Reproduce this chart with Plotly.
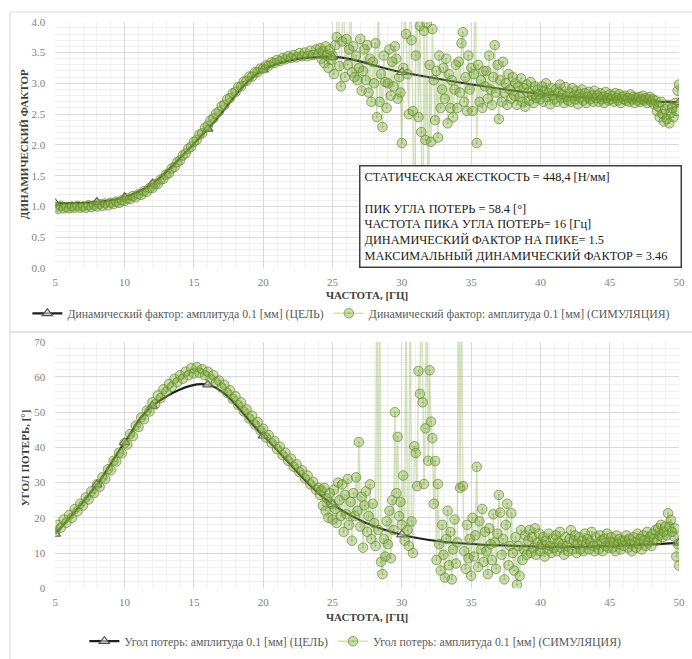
import numpy as np
import plotly.graph_objects as go

# ---------------- data ----------------
# simulation sampled every 0.2 Hz up to 24 Hz, then every 0.1 Hz
freq_sim = np.round(np.concatenate([np.arange(5.0, 24.0001, 0.2),
                                    np.arange(24.1, 50.0001, 0.1)]), 1)

target_freq = [5, 8, 10, 12, 16, 20, 25, 30, 40, 50]
df_target = [1.05, 1.07, 1.15, 1.37, 2.26, 3.22, 3.43, 3.18, 2.83, 2.69]
la_target = [15.4, 29.4, 41.4, 51.8, 57.8, 43.3, 23.8, 15.2, 11.8, 12.9]

df_sim = [
    # 5.0 - 24.0 (0.2 Hz)
    0.99, 0.96, 1.01, 0.97, 0.99,
    0.97, 1.00, 0.98, 1.01, 0.98,
    1.00, 0.98, 1.02, 0.99, 1.02,
    1.00, 1.04, 1.01, 1.05, 1.02,
    1.06, 1.04, 1.08, 1.06, 1.10,
    1.09, 1.13, 1.12, 1.17, 1.15,
    1.20, 1.19, 1.25, 1.24, 1.30,
    1.30, 1.36, 1.37, 1.44, 1.45,
    1.52, 1.54, 1.62, 1.64, 1.72,
    1.75, 1.83, 1.86, 1.94, 1.97,
    2.05, 2.08, 2.17, 2.19, 2.28,
    2.31, 2.40, 2.43, 2.51, 2.54,
    2.63, 2.65, 2.74, 2.76, 2.84,
    2.86, 2.94, 2.95, 3.03, 3.04,
    3.11, 3.11, 3.18, 3.18, 3.24,
    3.24, 3.29, 3.29, 3.34, 3.33,
    3.38, 3.36, 3.41, 3.39, 3.44,
    3.41, 3.46, 3.42, 3.49, 3.44,
    3.50, 3.44, 3.53, 3.46, 3.55,
    3.48,
    # 24.1 - 50.0 (0.1 Hz)
    3.57, 3.40, 3.52, 3.33, 3.60, 3.45, 3.25, 3.55, 3.38, 3.45,
    3.15, 3.62, 3.75, 5.20, 3.28, 2.95, 3.68, 4.80, 3.10, 3.72,
    3.30, 3.55, 5.00, 3.18, 3.60, 3.10, 3.45, 3.05, 3.25, 3.72,
    2.88, 3.20, 3.55, 3.05, 3.62, 2.85, 3.40, 2.70, 3.35, 3.00,
    3.65, 2.45, 4.60, 2.70, 3.15, 2.29, 3.45, 3.02, 2.60, 3.00,
    3.55, 2.80, 3.35, 2.95, 3.60, 3.40, 2.75, 3.10, 2.85, 2.03,
    3.25, 4.50, 3.80, 3.15, 2.50, 5.00, 3.70, 2.55, -1.00, 3.45,
    4.60, 2.45, 3.93, 2.21, -1.00, 3.85, 2.08, 3.97, 0.50, 3.30,
    2.05, 3.88, 3.05, 2.40, 3.20, 2.12, 3.45, 2.60, 2.90, 3.25,
    2.75, 3.40, 2.35, 3.15, 2.60, 3.05, 2.45, 2.90, 3.30, 2.60,
    3.35, 2.85, 3.65, 3.83, 2.70, 3.10, 2.55, 3.45, 2.90, 3.25,
    2.55, 3.15, 5.00, 2.03, 3.30, 2.70, 3.05, 2.60, 3.20, 2.95,
    3.20, 2.75, 3.45, 2.90, 2.65, 3.10, 3.62, 2.85, 3.30, 2.42,
    3.05, 2.70, 3.35, 2.85, 3.00, 2.65, 3.15, 2.90, 2.75, 3.10,
    2.80, 3.00, 2.65, 2.95, 2.78, 3.08, 2.70, 2.92, 2.62, 2.98,
    2.85, 2.72, 3.02, 2.80, 2.68, 2.95, 2.76, 2.90, 2.82, 2.74,
    2.95, 2.70, 2.88, 3.00, 2.78, 2.84, 2.66, 2.92, 2.80, 2.74,
    2.90, 2.70, 2.86, 2.98, 2.76, 2.82, 2.68, 2.94, 2.78, 2.72,
    2.85, 2.70, 2.92, 2.80, 2.74, 2.88, 2.66, 2.82, 2.76, 2.90,
    2.72, 2.84, 2.68, 2.78, 2.86, 2.74, 2.80, 2.70, 2.88, 2.76,
    2.80, 2.70, 2.84, 2.74, 2.78, 2.68, 2.86, 2.76, 2.72, 2.82,
    2.74, 2.80, 2.70, 2.84, 2.76, 2.72, 2.82, 2.68, 2.78, 2.74,
    2.80, 2.72, 2.76, 2.70, 2.82, 2.74, 2.78, 2.68, 2.76, 2.72,
    2.78, 2.70, 2.74, 2.80, 2.72, 2.76, 2.68, 2.74, 2.78, 2.70,
    2.74, 2.66, 2.72, 2.55, 2.62, 2.45, 2.70, 2.50, 2.38, 2.58,
    2.42, 2.65, 2.35, 2.52, 2.60, 2.45, 2.68, 2.55, 2.88, 2.98,
]

la_sim = [
    # 5.0 - 24.0 (0.2 Hz)
    16.0, 18.0, 17.2, 19.5, 18.6,
    20.8, 20.0, 22.5, 21.8, 24.0,
    23.5, 25.8, 25.2, 27.5, 27.0,
    29.5, 28.8, 31.5, 31.0, 33.8,
    33.5, 36.2, 36.0, 38.5, 38.3,
    41.2, 40.8, 43.8, 43.2, 46.2,
    45.8, 48.5, 48.0, 50.5, 50.2,
    52.8, 52.2, 54.8, 54.0, 56.5,
    55.8, 58.0, 57.2, 59.5, 58.5,
    60.5, 59.5, 61.5, 60.5, 62.5,
    61.0, 62.8, 61.2, 62.2, 60.5,
    61.5, 59.5, 60.5, 58.5, 59.0,
    57.0, 57.8, 55.5, 56.2, 53.8,
    54.5, 52.0, 52.8, 50.2, 50.8,
    48.2, 49.0, 46.5, 47.2, 44.8,
    45.3, 42.8, 43.5, 41.2, 41.8,
    39.5, 40.2, 37.8, 38.5, 36.2,
    36.8, 34.5, 35.2, 33.0, 33.5,
    31.2, 32.0, 29.5, 30.2, 28.0,
    28.5,
    # 24.1 - 50.0 (0.1 Hz)
    26.5, 27.8, 23.5, 28.5, 22.0, 25.5, 20.0, 27.0, 24.0, 19.5,
    28.0, 22.5, 18.5, 30.0, 25.0, 20.5, 29.5, 16.0, 26.5, 21.0,
    31.0, 18.0, 24.5, 13.5, 27.0, 20.5, 31.5, 22.0, 41.5, 17.5,
    26.0, 11.5, 23.5, 27.5, 16.0, 20.5, 29.5, 14.0, 24.0, 18.5,
    12.0, 90.0, 16.5, 85.0, 7.5, 4.0, 14.0, 9.0, 19.0, 12.5,
    22.0, 8.5, 25.0, 16.5, 50.0, 27.0, 43.0, 20.5, 24.5, 18.0,
    32.0, 13.5, 90.0, 16.5, 12.0, 95.0, 19.0, 10.0, 40.3, 38.4,
    29.0, 61.7, 55.2, 90.0, 52.8, 29.6, 45.4, 95.0, 36.2, 61.9,
    47.3, 42.6, 24.0, 36.1, 8.0, 29.6, 12.5, 5.0, 18.0, 9.5,
    3.0, 14.0, 22.0, 6.5, 16.0, 2.5, 11.0, 19.5, 7.0, 13.0,
    95.0, 28.5, 90.0, 29.0, 10.5, 5.5, 18.0, 8.5, 14.0, 3.5,
    20.0, 9.0, 15.0, 34.5, 6.0, 19.0, 11.0, 22.5, 7.5, 16.0,
    10.5, 4.0, 17.0, 12.5, 8.0, 21.0, 13.0, 5.5, 15.5, 26.5,
    21.5, 9.5, 14.0, 2.5, 18.0, 24.0, 6.5, 12.0, 21.3, 10.0,
    5.0, 14.5, 1.0, 12.0, 3.5, 16.5, 8.0, 11.0, 15.0, 9.5,
    13.5, 16.5, 10.0, 14.5, 11.5, 17.0, 9.5, 13.0, 15.5, 10.5,
    12.5, 14.5, 9.0, 13.5, 11.0, 15.5, 12.0, 10.0, 14.0, 11.5,
    15.0, 10.5, 13.0, 16.0, 11.5, 12.5, 9.5, 14.5, 12.0, 10.5,
    14.0, 16.5, 11.0, 13.5, 15.0, 10.0, 12.5, 14.5, 11.0, 13.5,
    10.5, 15.5, 12.5, 14.0, 11.0, 13.0, 16.0, 12.0, 10.5, 14.5,
    12.5, 11.0, 15.0, 13.5, 10.5, 14.0, 12.0, 15.5, 11.5, 13.0,
    14.5, 11.5, 13.0, 10.5, 15.0, 12.5, 14.0, 11.0, 13.5, 12.0,
    13.5, 15.0, 11.5, 14.0, 12.5, 10.5, 14.5, 13.0, 11.5, 15.5,
    12.5, 14.0, 11.0, 15.0, 13.5, 12.0, 16.0, 13.0, 14.5, 12.0,
    15.5, 14.0, 16.5, 13.5, 17.0, 15.0, 18.0, 14.5, 16.0, 17.5,
    15.0, 21.3, 17.5, 19.4, 16.0, 14.8, 17.0, 9.0, 12.5, 6.4,
]

info_lines = [
    "СТАТИЧЕСКАЯ ЖЕСТКОСТЬ = 448,4 [Н/мм]",
    "",
    "ПИК УГЛА ПОТЕРЬ = 58.4 [°]",
    "ЧАСТОТА ПИКА УГЛА ПОТЕРЬ= 16 [Гц]",
    "ДИНАМИЧЕСКИЙ ФАКТОР НА ПИКЕ= 1.5",
    "МАКСИМАЛЬНЫЙ ДИНАМИЧЕСКИЙ ФАКТОР = 3.46",
]

# ---------------- figure ----------------
W, H = 692, 659
def px(x):
    return x / W
def py(y):
    return 1 - y / H

FONT = "Liberation Serif"
GREEN_LINE = "rgba(145,180,90,0.40)"
GREEN_MK_FILL = "rgba(130,170,65,0.40)"
GREEN_MK_LINE = "rgba(100,140,40,0.72)"

fig = go.Figure()

sim_style = dict(
    mode="lines+markers",
    line=dict(color=GREEN_LINE, width=1.5),
    marker=dict(symbol="circle-dot", size=9.5, color=GREEN_MK_FILL,
                line=dict(color=GREEN_MK_LINE, width=1)),
    legendrank=2,
)
tgt_style = dict(
    mode="lines+markers",
    line=dict(color="#1e1e1e", width=2.2, shape="spline", smoothing=1),
    marker=dict(symbol="triangle-up", size=9, color="rgba(235,235,235,0.6)",
                line=dict(color="#555555", width=1.2)),
    legendrank=1,
)

# target first (underneath), simulation drawn over it
fig.add_trace(go.Scatter(x=target_freq, y=df_target, xaxis="x", yaxis="y",
                         name="Динамический фактор: амплитуда 0.1 [мм] (ЦЕЛЬ)",
                         legend="legend", **tgt_style))
fig.add_trace(go.Scatter(x=freq_sim, y=df_sim, xaxis="x", yaxis="y",
                         name="Динамический фактор: амплитуда 0.1 [мм] (СИМУЛЯЦИЯ)",
                         legend="legend", **sim_style))
fig.add_trace(go.Scatter(x=target_freq, y=la_target, xaxis="x2", yaxis="y2",
                         name="Угол потерь: амплитуда 0.1 [мм] (ЦЕЛЬ)",
                         legend="legend2", **tgt_style))
fig.add_trace(go.Scatter(x=freq_sim, y=la_sim, xaxis="x2", yaxis="y2",
                         name="Угол потерь: амплитуда 0.1 [мм] (СИМУЛЯЦИЯ)",
                         legend="legend2", **sim_style))

tick_font = dict(family=FONT, size=11, color="#7f7f7f")
xax = dict(range=[5, 50], dtick=5, tick0=5, showgrid=True, gridcolor="#d9d9d9",
           gridwidth=1, zeroline=False, showline=False, ticks="",
           tickfont=tick_font, ticklabelstandoff=6,
           minor=dict(dtick=1, showgrid=True, gridcolor="#f0f0f0", gridwidth=1),
           domain=[px(53), px(685)])
yax_common = dict(showgrid=True, gridcolor="#d9d9d9", gridwidth=1, zeroline=False,
                  showline=False, ticks="", tickfont=tick_font, ticklabelstandoff=9)

legend_font = dict(family=FONT, size=11.8, color="#595959")
fig.update_layout(
    width=W, height=H,
    margin=dict(l=0, r=0, t=0, b=0),
    paper_bgcolor="white", plot_bgcolor="white",
    font=dict(family=FONT),
    xaxis=dict(**xax, anchor="y"),
    yaxis=dict(**yax_common, range=[0, 4], dtick=0.5, tickformat=".1f",
               minor=dict(dtick=0.1, showgrid=True, gridcolor="#f0f0f0"),
               domain=[py(267), py(16)], anchor="x"),
    xaxis2=dict(**xax, anchor="y2"),
    yaxis2=dict(**yax_common, range=[0, 70], dtick=10,
                minor=dict(dtick=2, showgrid=True, gridcolor="#f0f0f0"),
                domain=[py(593), py(342)], anchor="x2"),
    legend=dict(orientation="h", x=px(353), xanchor="center", y=py(313),
                yanchor="middle", font=legend_font, bgcolor="rgba(0,0,0,0)",
                itemwidth=30, traceorder="normal"),
    legend2=dict(orientation="h", x=px(357), xanchor="center", y=py(647),
                 yanchor="middle", font=legend_font, bgcolor="rgba(0,0,0,0)",
                 itemwidth=30, traceorder="normal"),
    showlegend=True,
)

title_font = dict(family=FONT, size=11, color="#404040")
annos = [
    dict(text="<b>ЧАСТОТА, [ГЦ]</b>", x=px(369), y=py(294)),
    dict(text="<b>ЧАСТОТА, [ГЦ]</b>", x=px(369), y=py(622)),
    dict(text="<b>ДИНАМИЧЕСКИЙ ФАКТОР</b>", x=px(22), y=py(141), textangle=-90),
    dict(text="<b>УГОЛ ПОТЕРЬ, [°]</b>", x=px(22), y=py(460), textangle=-90),
]
for a in annos:
    fig.add_annotation(xref="paper", yref="paper", showarrow=False,
                       xanchor="center", yanchor="middle", font=title_font, **a)

fig.add_annotation(
    xref="paper", yref="paper", x=px(361), y=py(162), xanchor="left", yanchor="top",
    showarrow=False, text="<br>".join(info_lines), align="left",
    width=312, height=92, valign="middle",
    font=dict(family=FONT, size=12.3, color="#1a1a1a"),
    bgcolor="white", bordercolor="#404040", borderwidth=1.5, borderpad=4,
)

# chart-area frames
for (y0, y1) in [(6, 332), (332, 700)]:
    fig.add_shape(type="rect", xref="paper", yref="paper",
                  x0=px(7), x1=px(700), y0=py(y1), y1=py(y0),
                  line=dict(color="#d9d9d9", width=1), fillcolor="rgba(0,0,0,0)",
                  layer="below")

fig.write_html("out.html")
